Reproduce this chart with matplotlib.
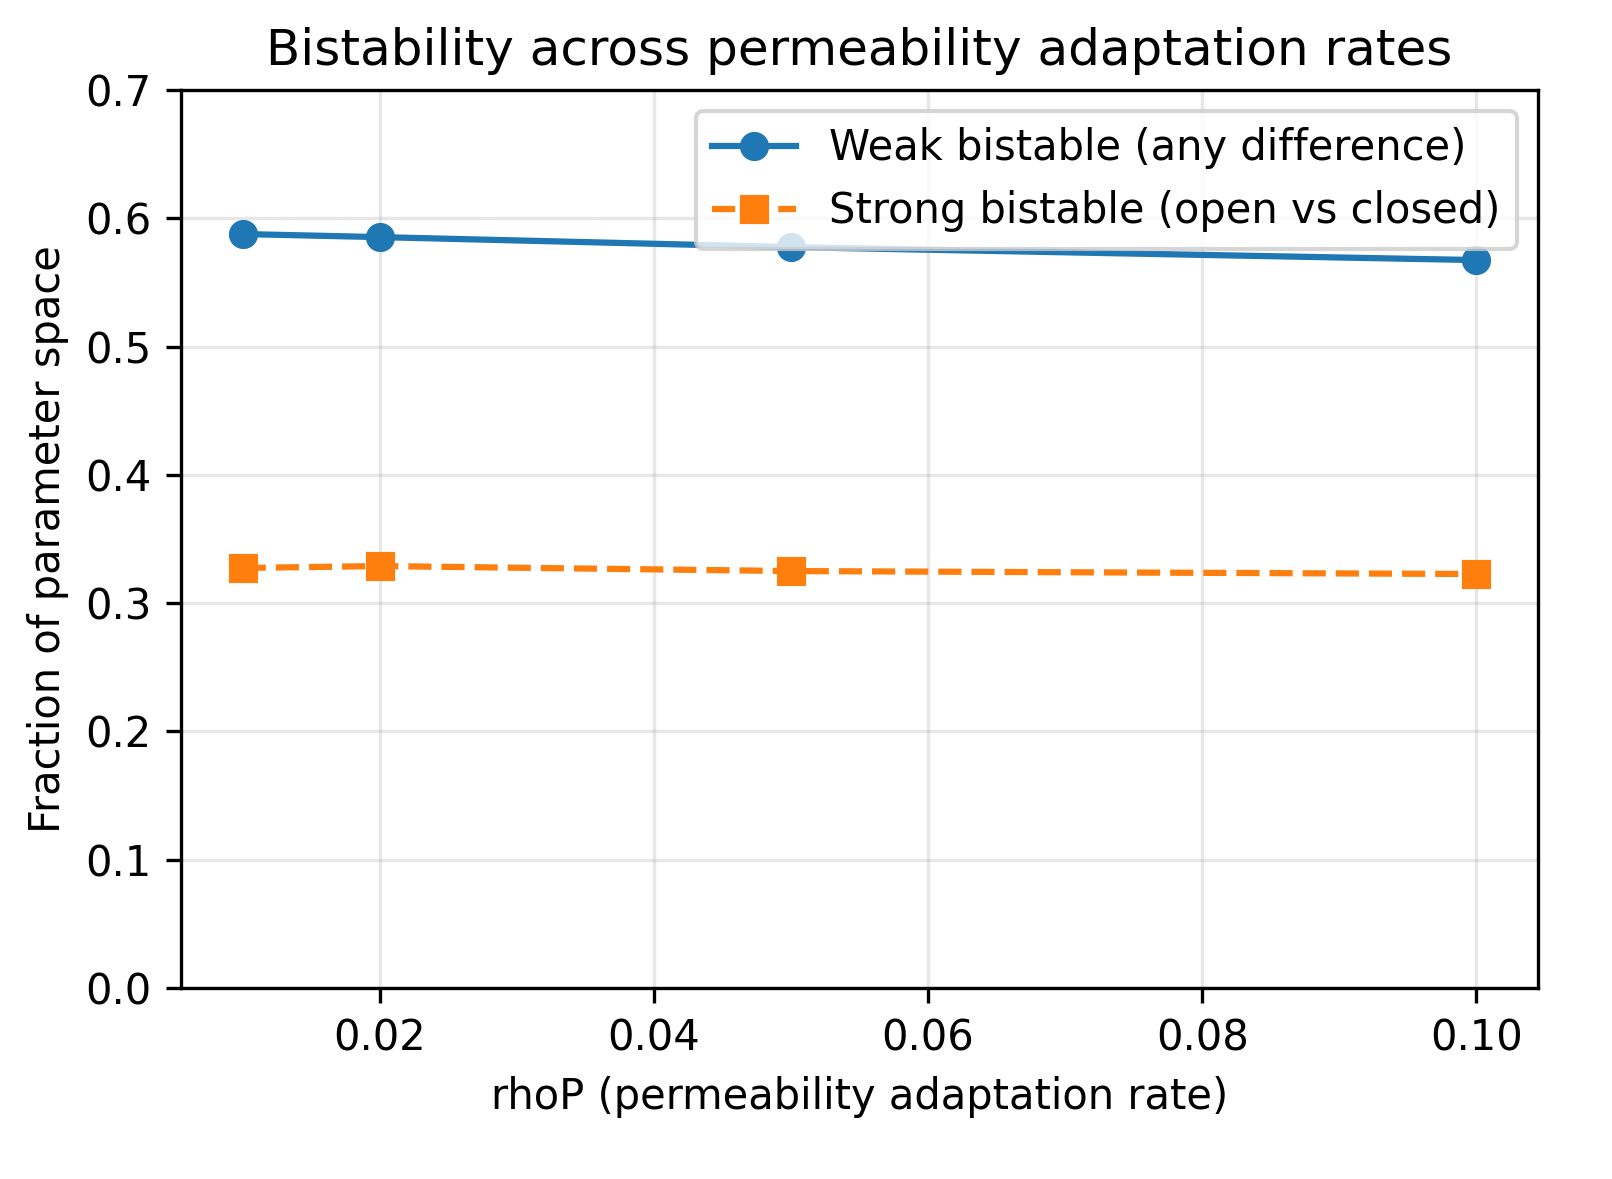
import matplotlib
matplotlib.use("Agg")
import matplotlib.pyplot as plt

rho = [0.01, 0.02, 0.05, 0.10]
weak = [0.5877, 0.5853, 0.5775, 0.5674]
strong = [0.3274, 0.3289, 0.3250, 0.3227]

fig = plt.figure(figsize=(1612/300, 1179/300), dpi=300)
ax = fig.add_axes([0.1123, 0.162, 0.8418, 0.7617])
ax.plot(rho, weak, marker='o', linestyle='-', color='#1f77b4', label='Weak bistable (any difference)')
ax.plot(rho, strong, marker='s', linestyle='--', color='#ff7f0e', label='Strong bistable (open vs closed)')
ax.set_ylim(0, 0.7)
ax.set_xlabel('rhoP (permeability adaptation rate)')
ax.set_ylabel('Fraction of parameter space')
ax.set_title('Bistability across permeability adaptation rates')
ax.grid(True, alpha=0.3)
ax.legend(loc='upper right')
fig.savefig('out.png', dpi=300)
